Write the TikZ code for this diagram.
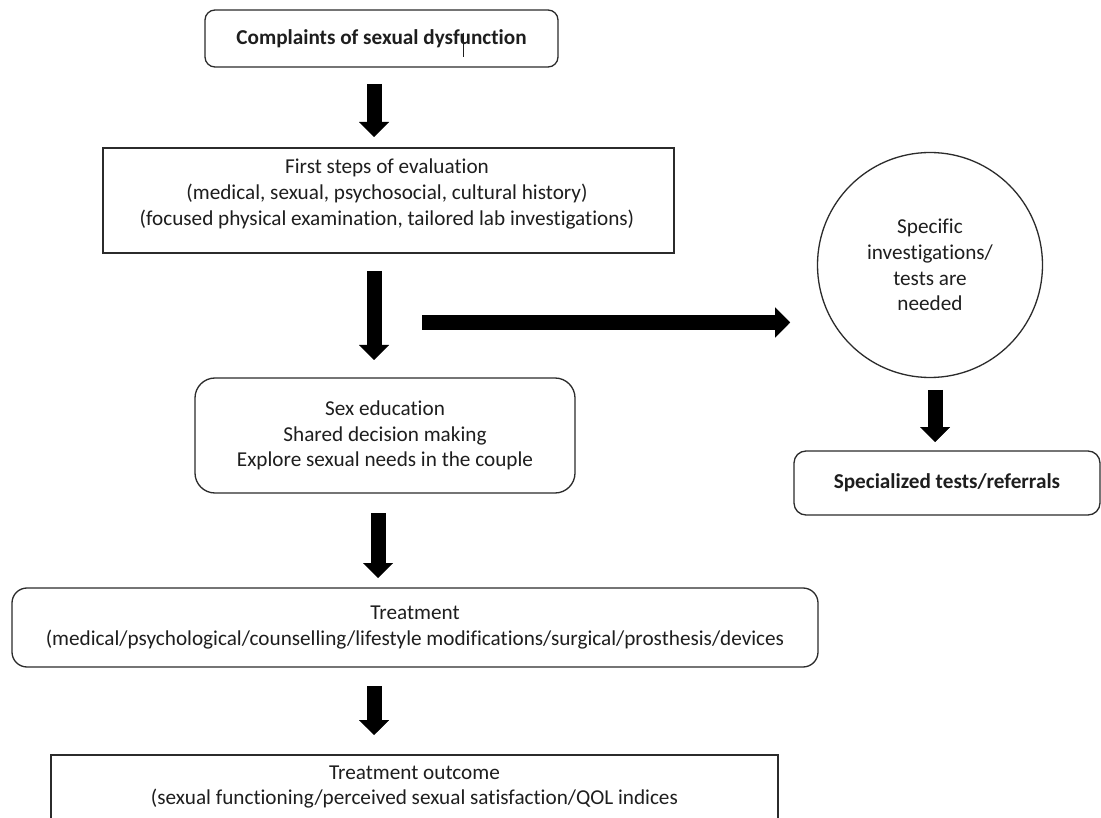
\documentclass[tikz,border=0pt]{standalone}
\usepackage{fontspec}
\setmainfont[Ligatures=NoCommon]{Carlito}
\usetikzlibrary{arrows.meta}
\definecolor{edge}{HTML}{2B2B2B}
\definecolor{ink}{HTML}{1E1E1E}
\begin{document}
\begin{tikzpicture}[x=1pt,y=-1pt,
  every node/.style={font=\fontsize{21.2pt}{25.8pt}\selectfont, text=ink, inner sep=0pt},
  frame/.style={draw=edge, line width=1.3pt, fill=white},
  roundframe/.style={frame, rounded corners=#1},
  label/.style={align=center},
  blockarrow/.style={line width=15pt, draw=black,
    -{Triangle[width=30pt,length=15pt,line width=0.01pt]}}]
\useasboundingbox (0,0) rectangle (1101,818);
\clip (0,0) rectangle (1101,818);

% boxes of the main column
\node[roundframe=10pt, minimum width=353pt, minimum height=57pt, label]
  (complaints) at (381.5,38.5) {\bfseries Complaints of sexual dysfunction};
\node[frame, minimum width=571pt, minimum height=105pt] (evalbox) at (388.5,200.5) {};
\node[label] (evaltext) at (387,194) {First steps of evaluation\\
  (medical, sexual, psychosocial, cultural history)\\
  (focused physical examination, tailored lab investigations)};
\node[roundframe=20pt, minimum width=380pt, minimum height=115pt, label]
  (education) at (385,435.5) {Sex education\\ Shared decision making\\
  Explore sexual needs in the couple};
\node[roundframe=15pt, minimum width=806pt, minimum height=79pt, label]
  (treatment) at (415,627.5) {Treatment\\
  (medical/psychological/counselling/lifestyle modifications/surgical/prosthesis/devices};
\node[frame, minimum width=727pt, minimum height=95pt] (outcomebox) at (414.5,802.5) {};
\node[label] (outcometext) at (414.5,787) {Treatment outcome\\
  (sexual functioning/perceived sexual satisfaction/QOL indices};

% side branch
\node[frame, circle, minimum size=225pt, label] (specific) at (930,265)
  {Specific\\ investigations/\\ tests are\\ needed};
\node[roundframe=12pt, minimum width=306pt, minimum height=64pt, label]
  (referrals) at (947,483) {\bfseries Specialized tests/referrals};

% arrow end points
\coordinate (a1s) at (374,84);  \coordinate (a1e) at (374,137);
\coordinate (a2s) at (374,271); \coordinate (a2e) at (374,360);
\coordinate (hs) at (422,322.5); \coordinate (he) at (790,322.5);
\coordinate (a3s) at (378,513); \coordinate (a3e) at (378,578);
\coordinate (a4s) at (374,686); \coordinate (a4e) at (374,735);
\coordinate (a5s) at (935,390); \coordinate (a5e) at (935,442);

\draw[blockarrow] (a1s) -- (a1e);
\draw[blockarrow] (a2s) -- (a2e);
\draw[blockarrow] (hs) -- (he);
\draw[blockarrow] (a3s) -- (a3e);
\draw[blockarrow] (a4s) -- (a4e);
\draw[blockarrow] (a5s) -- (a5e);

% text cursor left in the first box
\coordinate (cur1) at (463,33); \coordinate (cur2) at (463,57);
\draw[line width=0.8pt, ink] (cur1) -- (cur2);
\end{tikzpicture}
\end{document}
